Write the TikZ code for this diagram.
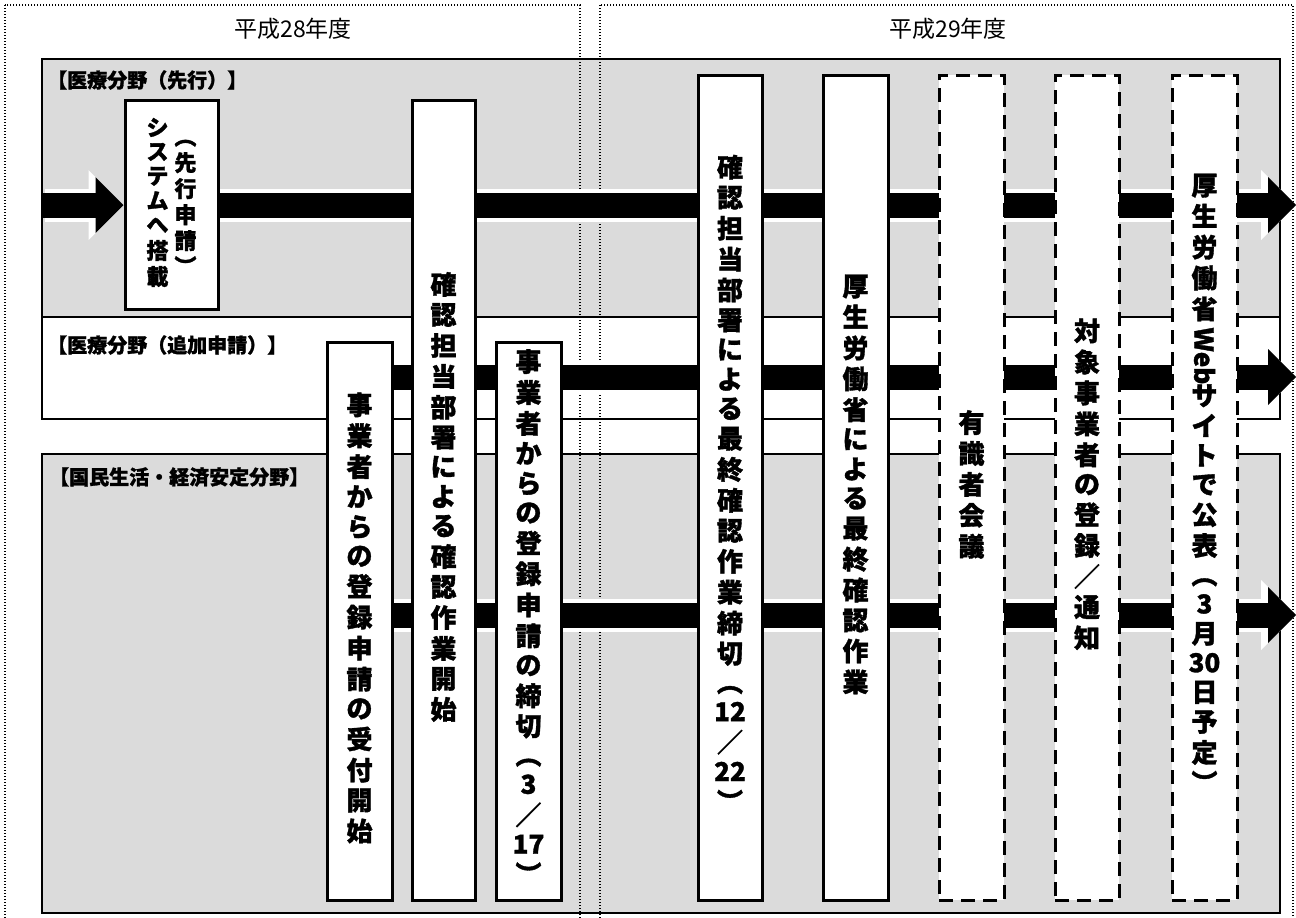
\documentclass[tikz,border=0pt]{standalone}
\usepackage{fontspec}
\usepackage{graphicx}
\setmainfont{Noto Sans CJK JP}
\newfontfamily\heavy[FakeBold=1.3]{Noto Sans CJK JP}
\usetikzlibrary{arrows.meta}
\pgfdeclarelayer{lanes}
\pgfdeclarelayer{bands}
\pgfsetlayers{lanes,bands,main}
\definecolor{lanegray}{gray}{0.86}
\newcommand\tate[1]{\begin{tabular}[c]{@{}c@{}}#1\end{tabular}}
\begin{document}
\begin{tikzpicture}[x=1pt,y=-1pt,
  lanebox/.style={draw=black, line width=2.6pt},
  frame/.style={draw=black, line width=1.3pt, dash pattern=on 1.3pt off 1.7pt},
  sbox/.style={draw=black, fill=white, line width=3pt, inner sep=0pt, minimum width=64pt},
  dbox/.style={sbox, dash pattern=on 14pt off 8pt},
  vfont/.style={font=\heavy\bfseries\fontsize{26}{29}\selectfont},
  halo/.style={draw=white, line width=33pt, -{Triangle[width=70pt,length=35pt,line width=0pt]}},
  band/.style={draw=black, line width=25pt, -{Triangle[width=56pt,length=28pt,line width=0pt]}},
  lanelabel/.style={anchor=west, font=\heavy\bfseries\fontsize{20}{22}\selectfont, inner sep=0pt},
  header/.style={font=\fontsize{23}{25}\selectfont, inner sep=0pt}]
\useasboundingbox (0,0) rectangle (1296,918);

% lanes
\begin{pgfonlayer}{lanes}
  \fill[white] (0,0) rectangle (1296,918);
  \draw[lanebox, fill=lanegray] (42,59) rectangle (1280,317);
  \draw[lanebox, fill=white] (42,317) rectangle (1280,419);
  \draw[lanebox, fill=lanegray] (42,454) rectangle (1280,913);
\end{pgfonlayer}

% headers and lane labels
\node[header] (h1) at (293,29) {平成28年度};
\node[header] (h2) at (948,29) {平成29年度};
\node[lanelabel] (l1) at (47,80) {【医療分野（先行）】};
\node[lanelabel] (l2) at (47,345) {【医療分野（追加申請）】};
\node[lanelabel] (l3) at (49,477) {【国民生活・経済安定分野】};

% boxes
\node[sbox, minimum width=93pt, minimum height=209pt, font=\heavy\bfseries\fontsize{22}{24}\selectfont] (b1) at (171.5,205)
  {\tate{シ\\ス\\テ\\ム\\へ\\搭\\載}\hspace{6pt}\tate{︵\\先\\行\\申\\請\\︶}};
\node[sbox, vfont, minimum width=63pt, minimum height=800pt] (b2) at (443.5,500)
  {\tate{確\\認\\担\\当\\部\\署\\に\\よ\\る\\確\\認\\作\\業\\開\\始}};
\node[sbox, vfont, minimum width=65pt, minimum height=558pt] (b3) at (359.5,621)
  {\tate{事\\業\\者\\か\\ら\\の\\登\\録\\申\\請\\の\\受\\付\\開\\始}};
\node[sbox, vfont, minimum width=65pt, minimum height=558pt] (b4) at (528.5,621)
  {\tate{事\\業\\者\\か\\ら\\の\\登\\録\\申\\請\\の\\締\\切\\︵\\3\\／\\17\\︶}};
\node[sbox, vfont, minimum height=825pt] (b5) at (730,487.5)
  {\tate{確\\認\\担\\当\\部\\署\\に\\よ\\る\\最\\終\\確\\認\\作\\業\\締\\切\\︵\\12\\／\\22\\︶}};
\node[sbox, vfont, minimum width=65pt, minimum height=825pt] (b6) at (855.5,487.5)
  {\tate{厚\\生\\労\\働\\省\\に\\よ\\る\\最\\終\\確\\認\\作\\業}};
\node[dbox, vfont, minimum width=65pt, minimum height=825pt] (b7) at (971.5,487.5)
  {\tate{有\\識\\者\\会\\議}};
\node[dbox, vfont, minimum height=825pt] (b8) at (1087,487.5)
  {\tate{対\\象\\事\\業\\者\\の\\登\\録\\／\\通\\知}};
\node[dbox, vfont, minimum width=65pt, minimum height=825pt] (b9) at (1204.5,487.5)
  {\tate{厚\\生\\労\\働\\省\\\rotatebox[origin=c]{-90}{Web}\\サ\\イ\\ト\\で\\公\\表\\︵\\3\\月\\30\\日\\予\\定\\︶}};

% band end points
\coordinate (t0) at (42,205);
\coordinate (t1) at (1296,205);
\coordinate (m1) at (1296,377);
\coordinate (n1) at (1296,615);

\begin{pgfonlayer}{bands}
  \draw[frame] (5,5) rectangle (580,930);
  \draw[frame] (600,5) rectangle (1293,930);
  \draw[halo] ([xshift=3pt]t0) -- (b1.west);
  \draw[halo] (b1.east) -- (t1);
  \draw[halo] (b3 |- m1) -- (m1);
  \draw[halo] (b3 |- n1) -- (n1);
  \draw[band] (t0) -- (b1.west);
  \draw[band] (b1.east) -- (t1);
  \draw[band] (b3 |- m1) -- (m1);
  \draw[band] (b3 |- n1) -- (n1);
\end{pgfonlayer}
\end{tikzpicture}
\end{document}
